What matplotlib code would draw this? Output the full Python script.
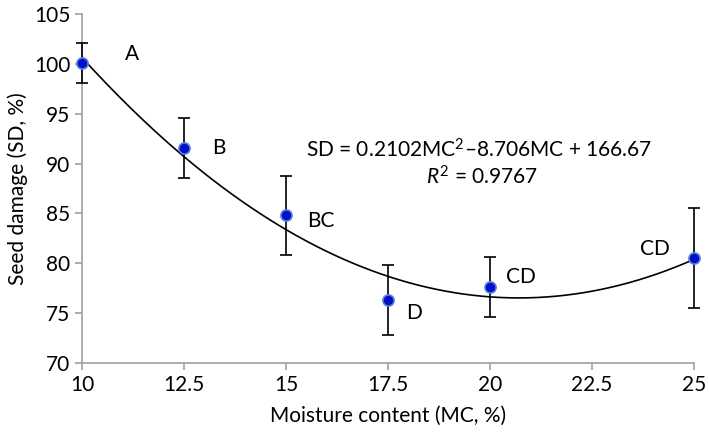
import numpy as np
import matplotlib.pyplot as plt

moisture = [10, 12.5, 15, 17.5, 20, 25]
damage = [100.1, 91.6, 84.8, 76.3, 77.65, 80.5]
errors = [2.0, 3.0, 4.0, 3.5, 3.0, 5.0]
letters = ['A', 'B', 'BC', 'D', 'CD', 'CD']
label_x = [11.23, 13.35, 15.86, 18.15, 20.75, 24.03]
label_y = [101.0, 91.6, 84.2, 75.0, 78.6, 81.4]
coeffs = [0.2102, -8.706, 166.67]

plt.rcParams['font.family'] = ['Lato', 'DejaVu Sans']
plt.rcParams['mathtext.fontset'] = 'custom'
plt.rcParams['mathtext.rm'] = 'Lato'
plt.rcParams['mathtext.it'] = 'Lato:italic'
fig = plt.figure(figsize=(7.09, 4.33), dpi=100)
ax = fig.add_axes([0.1157, 0.1617, 0.8632, 0.806])

xs = np.linspace(10, 25, 200)
ax.plot(xs, np.polyval(coeffs, xs), color='black', lw=1.2, zorder=2)
eb = ax.errorbar(moisture, damage, yerr=errors, fmt='none', ecolor='black',
                 elinewidth=1.2, capsize=4, capthick=1.2, zorder=3)
for part in eb.lines[1] + eb.lines[2]:
    part.set_clip_on(False)
ax.plot(moisture, damage, 'o', color='#0010c8', markeredgecolor='#5a7fe0',
        markeredgewidth=1.2, markersize=8, zorder=4, clip_on=False)

for lx, ly, t in zip(label_x, label_y, letters):
    ax.text(lx, ly, t, fontsize=15, ha='center', va='center')

ax.text(19.73, 91.4, 'SD = 0.2102MC$^2$\u20138.706MC + 166.67',
        fontsize=15, ha='center', va='center')
ax.text(19.8, 88.7, '$R^2$ = 0.9767', fontsize=15, ha='center', va='center')

ax.set_xlim(10, 25)
ax.set_ylim(70, 105)
ax.set_xticks([10, 12.5, 15, 17.5, 20, 22.5, 25])
ax.set_xticklabels(['10', '12.5', '15', '17.5', '20', '22.5', '25'])
ax.set_yticks(range(70, 106, 5))
ax.set_xlabel('Moisture content (MC, %)', fontsize=15, labelpad=8)
ax.set_ylabel('Seed damage (SD, %)', fontsize=15)

for side in ['top', 'right']:
    ax.spines[side].set_visible(False)
for side in ['left', 'bottom']:
    ax.spines[side].set_color('#a0a0a0')
    ax.spines[side].set_linewidth(1.2)
ax.tick_params(colors='#a0a0a0', labelcolor='black', labelsize=15, length=5, width=1.2)

fig.savefig('out.png', dpi=100)
